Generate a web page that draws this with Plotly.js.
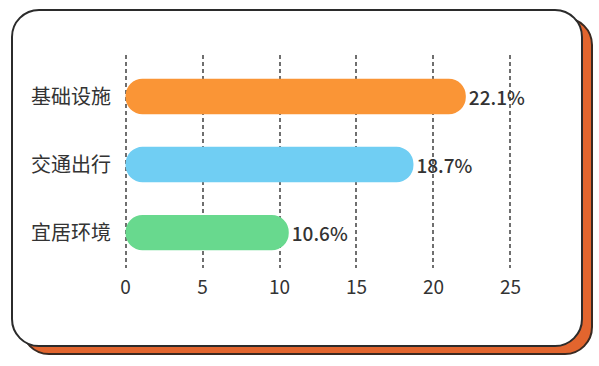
<!DOCTYPE html>
<html>
<head>
<meta charset="utf-8">
<script src="https://cdn.plot.ly/plotly-3.0.1.min.js"></script>
<style>
  html, body { margin: 0; padding: 0; background: #ffffff; }
  #wrap { position: relative; width: 599px; height: 366px; overflow: hidden; }
  #shadow { position: absolute; left: 21px; top: 17px; width: 568px; height: 334px;
            background: #E2652E; border: 2px solid #3a2a22; border-radius: 28px; }
  #card { position: absolute; left: 11px; top: 9px; width: 568px; height: 334px;
          background: #ffffff; border: 2px solid #2b2b2b; border-radius: 28px; }
  #chart { position: absolute; left: 0; top: 0; width: 599px; height: 366px; }
</style>
</head>
<body>
<div id="wrap">
  <div id="shadow"></div>
  <div id="card"></div>
  <div id="chart"></div>
</div>
<script>
const categories = ["基础设施", "交通出行", "宜居环境"];
const values = [22.1, 18.7, 10.6];
const valueLabels = ["22.1%", "18.7%", "10.6%"];
const barColors = ["#FA9536", "#70CEF3", "#68D98E"];
const xTickValues = [0, 5, 10, 15, 20, 25];

const font = '"Noto Sans CJK SC", "Noto Sans", sans-serif';

// Full bar drawn from the value back to zero (rounded at both ends)
const bars = {
  type: "bar",
  orientation: "h",
  y: categories,
  x: values.map(v => -v),
  base: values,
  width: 0.52,
  marker: { color: barColors, cornerradius: "50%", line: { width: 0 } },
  hoverinfo: "none"
};

// Same bars, invisible, carrying the value labels outside the bar end
const labels = {
  type: "bar",
  orientation: "h",
  y: categories,
  x: values,
  width: 0.52,
  text: valueLabels,
  textposition: "outside",
  constraintext: "none",
  cliponaxis: false,
  textfont: { family: font, size: 19, color: "#333333", weight: 500 },
  marker: { color: "rgba(0,0,0,0)", line: { width: 0 } },
  hoverinfo: "none"
};

const layout = {
  width: 599,
  height: 366,
  margin: { l: 124, r: 87, t: 55, b: 98 },
  barmode: "overlay",
  paper_bgcolor: "rgba(0,0,0,0)",
  plot_bgcolor: "rgba(0,0,0,0)",
  showlegend: false,
  font: { family: font, color: "#333333" },
  xaxis: {
    range: [-0.1, 25.1],
    tickvals: xTickValues,
    ticktext: xTickValues.map(String),
    showgrid: true,
    gridcolor: "#6f6f6f",
    gridwidth: 2,
    griddash: "4px,3px",
    zeroline: false,
    showline: false,
    ticks: "",
    ticklabelstandoff: 6,
    tickfont: { family: font, size: 19, color: "#333333" },
    fixedrange: true
  },
  yaxis: {
    range: [2.52, -0.61],
    showgrid: false,
    zeroline: false,
    showline: false,
    ticks: "",
    ticklabelstandoff: 12,
    tickfont: { family: font, size: 20, color: "#333333" },
    fixedrange: true
  }
};

Plotly.newPlot("chart", [bars, labels], layout, { displayModeBar: false, staticPlot: true });
</script>
</body>
</html>
